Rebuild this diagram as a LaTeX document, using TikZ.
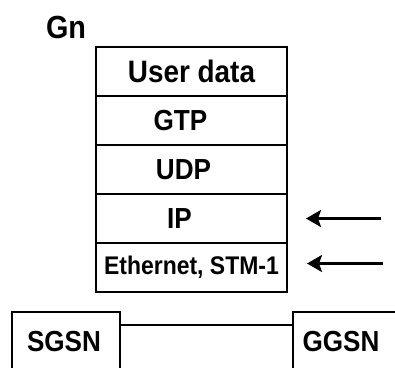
\documentclass[tikz,border=0pt]{standalone}
\usepackage{fontspec}
\setmainfont{Liberation Sans}[FakeStretch=0.9]
\usetikzlibrary{arrows.meta}
\begin{document}
\begin{tikzpicture}[x=1pt,y=-1pt,>={Stealth[length=15pt,width=17pt,inset=3pt]},
 layer/.style={draw,line width=2pt,minimum width=191pt,minimum height=49pt,inner sep=0pt,font=\bfseries\fontsize{29}{32}\selectfont},
 unit/.style={draw,line width=2pt,minimum height=89pt,inner sep=0pt},
 tag/.style={font=\bfseries\fontsize{29}{32}\selectfont,inner sep=0pt}]
 \useasboundingbox (0,0) rectangle (395,367);
 \clip (0,0) rectangle (395,367);
 \node[tag,font=\bfseries\fontsize{32}{34}\selectfont] (gn) at (66,27) {Gn};
 % protocol stack
 \node[layer,font=\bfseries\fontsize{31}{34}\selectfont] (data) at (191.5,71.5) {User data};
 \node[layer,label={[tag,name=gtptxt,xshift=-11pt]center:GTP}] (gtp) at (191.5,120.5) {};
 \node[layer,label={[tag,name=udptxt,xshift=-8pt]center:UDP}] (udp) at (191.5,169.5) {};
 \node[layer,label={[tag,name=iptxt,xshift=-12pt]center:IP}] (ip) at (191.5,218.5) {};
 \node[layer,font=\bfseries\fontsize{25.5}{28}\selectfont] (eth) at (191.5,267.5) {Ethernet, STM-1};
 % arrows
 \draw[->,line width=2.6pt] ([xshift=93pt]ip.east) -- ([xshift=18pt]ip.east);
 \draw[->,line width=2.6pt] ([shift={(95pt,4pt)}]eth.east) -- ([shift={(19pt,4pt)}]eth.east);
 % nodes
 \node[unit,minimum width=108pt] (sgsn) at (66,356) {};
 \node[tag] (sgsntxt) at (64,342) {SGSN};
 \node[unit,minimum width=120pt] (ggsn) at (353,356) {};
 \node[tag] (ggsntxt) at (341,342) {GGSN};
 \draw[line width=2pt] ([yshift=31pt]sgsn.east) -- ([yshift=31pt]ggsn.west);
\end{tikzpicture}
\end{document}
